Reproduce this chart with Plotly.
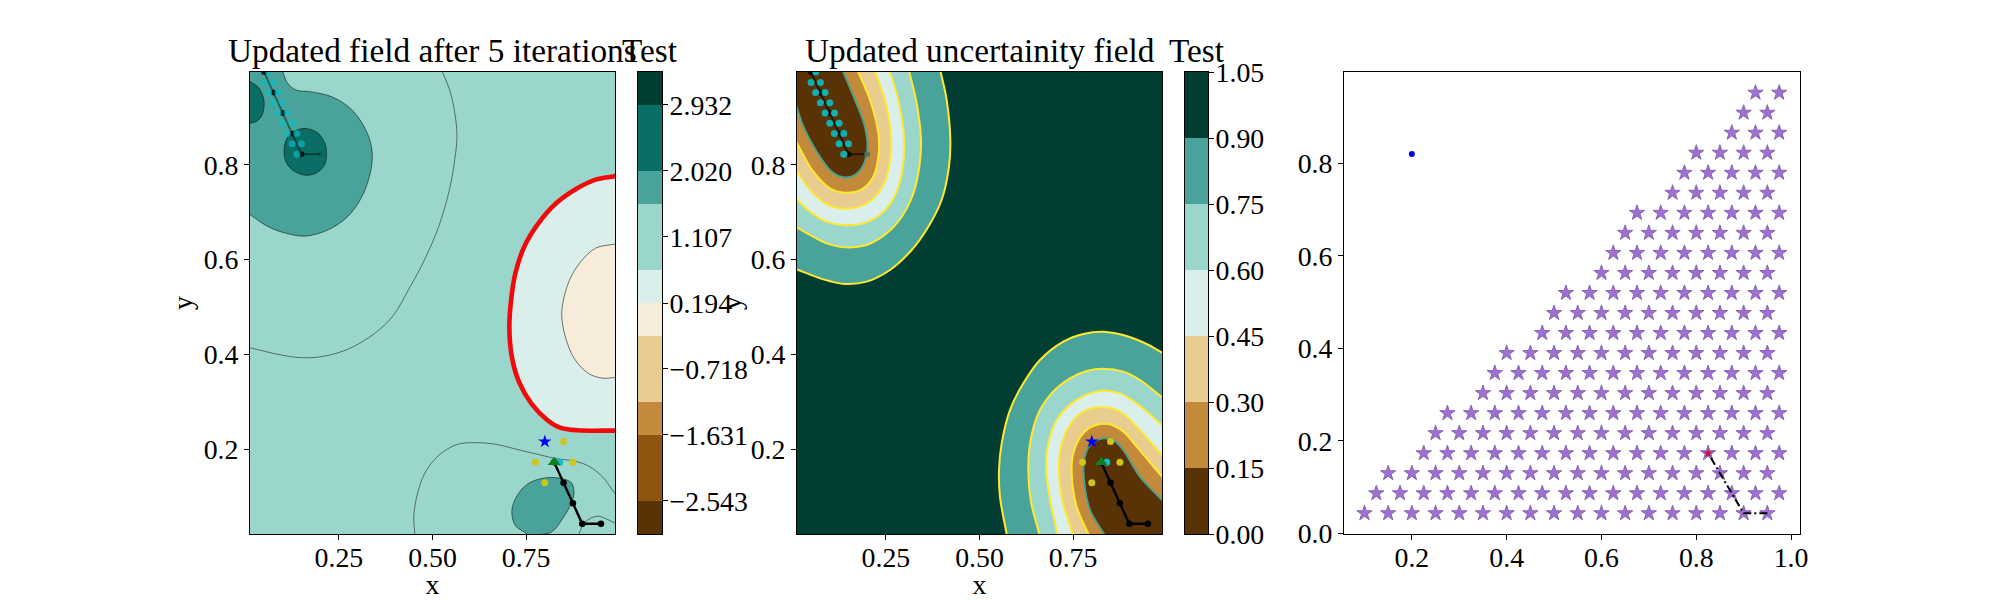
import plotly.graph_objects as go

FONT = "Liberation Serif"
TICK = 27.8
C_DARK = "#013D33"; C_TEAL = "#0A6E66"; C_MID = "#4AA39A"; C_LIGHT = "#9BD6CC"; C_PALE = "#DAEEEB"
C_CREAM = "#F6ECD9"; C_TAN = "#E8CC90"; C_BROWN = "#C38A3C"; C_BROWN2 = "#8F540F"; C_DBROWN = "#593305"
C_YEL = "#FFE92E"; C_EDGE = "#4FA08A"

f_mid_x = [.1, .112, .1357, .1738, .231, .2786, .3167, .3376, .3357, .3119, .2738, .2214, .1595, .1072, .0596, .0129]
f_mid_y = [.9966, .9733, .9578, .9543, .9437, .9204, .8817, .8359, .7901, .7337, .6914, .6632, .6498, .6562, .6703, .6949]
f_oval_x = [.1595, .1929, .2119, .2167, .2119, .1929, .1643, .131, .11, .1034, .1119, .131, .1595]
f_oval_y = [.8768, .8676, .8465, .8253, .8006, .7844, .7781, .7866, .8042, .8288, .857, .8711, .8768]
f_edge_x = [.0129, .0357, .05, .0453, .031, .0129]
f_edge_y = [.9754, .9627, .9345, .9064, .8923, .888]
f_line1_x = [.5262, .5453, .5595, .5653, .5595, .5453, .5167, .4786, .4405, .3929, .3453, .2786, .2119, .1548, .0976, .0129]
f_line1_y = [.9966, .9592, .9099, .8605, .8112, .7478, .6703, .5998, .5434, .48, .4447, .413, .3968, .3933, .3989, .4144]
f_red_x = [.9862, .9357, .8881, .831, .7833, .7453, .7214, .71, .7053, .7119, .731, .7643, .8072, .8405, .8881, .9862]
f_red_y = [.776, .7689, .7513, .7196, .6773, .628, .5716, .5152, .4588, .3954, .3425, .2967, .2615, .246, .2404, .2397]
f_cream_x = [.9862, .9357, .8929, .8643, .8481, .8453, .8548, .8786, .9167, .9548, .9862]
f_cream_y = [.6329, .6245, .5928, .554, .5082, .48, .4377, .3919, .3602, .3503, .3517]
f_line2_x = [.4529, .45, .4576, .4786, .5167, .5643, .6119, .6691, .7357, .7929, .831, .8786, .9167, .9548, .9862]
f_line2_y = [.0198, .0571, .0994, .1487, .1875, .2101, .2143, .2108, .1981, .1875, .1805, .1755, .165, .1417, .1079]
f_line3_x = [.89, .9072, .9405, .9643, .9862]
f_line3_y = [.0198, .0466, .0593, .0536, .0451]
f_blob_x = [.7738, .8167, .85, .8738, .8776, .8691, .831, .7929, .7548, .7262, .7119, .7214, .75]
f_blob_y = [.0198, .0254, .0571, .0924, .1135, .1311, .1403, .1389, .1276, .1029, .0712, .0395, .0233]

u_ul_90_x = [.3963, .4123, .4221, .4185, .3989, .3633, .3188, .2609, .1986, .1407, .0828, .0125]
u_ul_90_y = [.9959, .9369, .8525, .7963, .726, .6698, .6206, .5784, .5538, .5489, .5587, .5798]
u_ul_75_x = [.3126, .3322, .3437, .3393, .3233, .2921, .252, .1986, .1407, .0917, .0472, .0125]
u_ul_75_y = [.9959, .9298, .8525, .7963, .7401, .6908, .6557, .6311, .6262, .6346, .6522, .6684]
u_ul_60_x = [.2609, .2832, .2983, .2965, .2805, .252, .203, .1407, .0917, .0472, .0125]
u_ul_60_y = [.9959, .9369, .8595, .8033, .7471, .7084, .6803, .6726, .6803, .7014, .7274]
u_ul_45_x = [.2209, .2476, .2627, .2609, .2449, .212, .1719, .1407, .0962, .0517, .0125]
u_ul_45_y = [.9959, .9369, .8666, .8103, .7611, .726, .7105, .7077, .7154, .7436, .7857]
u_ul_30_x = [.1763, .2075, .2298, .2298, .2164, .1852, .1407, .1007, .0561, .0125]
u_ul_30_y = [.9959, .9369, .8666, .8174, .7752, .7485, .7415, .7506, .7857, .8455]
u_ul_15_x = [.1363, .1674, .1941, .2004, .1852, .163, .1363, .1051, .065, .0294, .0125]
u_ul_15_y = [.9959, .9369, .8806, .8314, .7928, .7766, .7738, .7857, .8279, .8806, .9193]

u_lr_90_x = [.5725, .5547, .5521, .5592, .5814, .6171, .6616, .7239, .7773, .8308, .8931, .9465, .9875]
u_lr_90_y = [.0217, .0998, .1566, .2129, .2831, .3394, .3886, .4272, .4434, .4483, .4392, .4223, .404]
u_lr_75_x = [.6598, .6366, .6304, .6366, .6571, .6927, .7417, .7862, .8308, .8842, .9287, .9875]
u_lr_75_y = [.0217, .0934, .1637, .2199, .2761, .3183, .3499, .3654, .3703, .364, .3464, .3099]
u_lr_60_x = [.7079, .6883, .6776, .6838, .7061, .7462, .7951, .8308, .8753, .9198, .9875]
u_lr_60_y = [.0217, .0934, .1637, .2129, .2621, .2972, .3183, .3239, .3183, .2972, .2515]
u_lr_45_x = [.7488, .7195, .7123, .7177, .7417, .7773, .8308, .8753, .9198, .9875]
u_lr_45_y = [.0217, .0998, .1566, .2058, .2515, .2796, .2888, .2796, .248, .1883]
u_lr_30_x = [.7907, .7595, .7462, .7506, .7729, .804, .8441, .8842, .9198, .9875]
u_lr_30_y = [.0217, .0793, .1496, .1918, .2304, .2494, .2536, .2375, .2058, .1426]
u_lr_15_x = [.8325, .7951, .7791, .7791, .7951, .8308, .8575, .8842, .9287, .9875]
u_lr_15_y = [.0217, .0723, .1355, .1777, .2093, .2234, .2199, .1988, .1426, .0934]

box_x = [-.2, 1.2, 1.2, -.2]
box_y = [-.2, -.2, 1.2, 1.2]

# ---- search points
path_low_x = [.95, .9, .875, .85, .825]
path_low_y = [.0433, .0433, .0866, .1299, .1732]
path_up_x = [.2, .15, .125, .1, .075, .05]
path_up_y = [.8227, .8227, .866, .9093, .9526, .9959]
near_x = [.85, .775, .875, .8]
near_y = [.2165, .1732, .1732, .1299]
cyan_up_x = [.1375, .125, .15, .1125, .1375, .1, .125, .0875, .1125, .075, .1, .0625, .0875, .05, .075, .0625]
cyan_up_y = [.8227, .8444, .8444, .866, .866, .8877, .8877, .9093, .9093, .931, .931, .9526, .9526, .974, .974, .9959]
cyan_low_x = [.84]
cyan_low_y = [.1732]
best_x = [.8]
best_y = [.2165]
current_x = [.825]
current_y = [.1732]

# ---- colour bars
cb1_edges = [-3.0, -2.543, -1.631, -1.175, -.262, .194, .65, 1.563, 2.02, 2.932, 3.388]
cb1_colors = [C_DBROWN, C_BROWN2, C_BROWN, C_TAN, C_CREAM, C_PALE, C_LIGHT, C_MID, C_TEAL, C_DARK]
cb1_ticks = [-2.543, -1.631, -.718, .194, 1.107, 2.02, 2.932]
cb1_labels = ["\u22122.543", "\u22121.631", "\u22120.718", "0.194", "1.107", "2.020", "2.932"]
cb2_edges = [0, .15, .3, .45, .6, .75, .9, 1.05]
cb2_colors = [C_DBROWN, C_BROWN, C_TAN, C_PALE, C_LIGHT, C_MID, C_DARK]
cb2_labels = ["0.00", "0.15", "0.30", "0.45", "0.60", "0.75", "0.90", "1.05"]

# ---- feasible set, row by row
star_row_y = [.0433, .0866, .1299, .1732, .2165, .2598, .3031, .3464, .3897, .433, .4763, .5196, .5629, .6062, .6495, .6928, .7361, .7794, .8227, .866, .9093, .9526]
star_row_x = [
    [.1, .15, .2, .25, .3, .35, .4, .45, .5, .55, .6, .65, .7, .75, .8, .85, .9, .95],
    [.125, .175, .225, .275, .325, .375, .425, .475, .525, .575, .625, .675, .725, .775, .825, .875, .925, .975],
    [.15, .2, .25, .3, .35, .4, .45, .5, .55, .6, .65, .7, .75, .8, .85, .9, .95],
    [.225, .275, .325, .375, .425, .475, .525, .575, .625, .675, .725, .775, .825, .875, .925, .975],
    [.25, .3, .35, .4, .45, .5, .55, .6, .65, .7, .75, .8, .85, .9, .95],
    [.275, .325, .375, .425, .475, .525, .575, .625, .675, .725, .775, .825, .875, .925, .975],
    [.35, .4, .45, .5, .55, .6, .65, .7, .75, .8, .85, .9, .95],
    [.375, .425, .475, .525, .575, .625, .675, .725, .775, .825, .875, .925, .975],
    [.4, .45, .5, .55, .6, .65, .7, .75, .8, .85, .9, .95],
    [.475, .525, .575, .625, .675, .725, .775, .825, .875, .925, .975],
    [.5, .55, .6, .65, .7, .75, .8, .85, .9, .95],
    [.525, .575, .625, .675, .725, .775, .825, .875, .925, .975],
    [.6, .65, .7, .75, .8, .85, .9, .95],
    [.625, .675, .725, .775, .825, .875, .925, .975],
    [.65, .7, .75, .8, .85, .9, .95],
    [.675, .725, .775, .825, .875, .925, .975],
    [.75, .8, .85, .9, .95],
    [.775, .825, .875, .925, .975],
    [.8, .85, .9, .95],
    [.875, .925, .975],
    [.9, .95],
    [.925, .975],
]
sample_x = [.2]
sample_y = [.82]
route_x = [.95, .9, .825]
route_y = [.0433, .0433, .1732]

fig = go.Figure()


def grow(xs, ys):
    """Run a traced contour past the plot edge at both ends, along its own direction."""
    gx = [2 * xs[0] - xs[1]] + list(xs) + [2 * xs[-1] - xs[-2]]
    gy = [2 * ys[0] - ys[1]] + list(ys) + [2 * ys[-1] - ys[-2]]
    return gx, gy


def region(ax, xs, ys, fill, line="rgba(0,0,0,.75)", width=.7, corner=None, extend=True):
    gx, gy = grow(xs, ys) if extend else (list(xs), list(ys))
    if corner:
        gx.append(corner[0]); gy.append(corner[1])
    fig.add_trace(go.Scatter(x=gx, y=gy, mode="lines", fill="toself", fillcolor=fill,
                             line=dict(color=line, width=width, shape="spline", smoothing=1.0),
                             xaxis="x" + ax, yaxis="y" + ax, showlegend=False, hoverinfo="skip"))


def isoline(ax, xs, ys):
    gx, gy = grow(xs, ys)
    fig.add_trace(go.Scatter(x=gx, y=gy, mode="lines",
                             line=dict(color="rgba(0,0,0,.7)", width=.7, shape="spline", smoothing=1.0),
                             xaxis="x" + ax, yaxis="y" + ax, showlegend=False, hoverinfo="skip"))


def pts(ax, xs, ys, mode="markers", **kw):
    fig.add_trace(go.Scatter(x=xs, y=ys, mode=mode, xaxis="x" + ax, yaxis="y" + ax,
                             showlegend=False, hoverinfo="skip", **kw))


def markers_over(ax, up_line, up_marker, end_marker, cyan):
    pts(ax, path_up_x, path_up_y, mode="lines", line=dict(color=up_line, width=2))
    pts(ax, path_up_x[:1], path_up_y[:1], marker=dict(color=end_marker, size=6))
    pts(ax, path_up_x[1:], path_up_y[1:], marker=dict(color=up_marker, size=6))
    pts(ax, cyan_up_x, cyan_up_y, marker=dict(color=cyan, size=7))
    pts(ax, path_low_x, path_low_y, mode="lines+markers", line=dict(color="black", width=2.4),
        marker=dict(color="black", size=6.5))
    pts(ax, near_x, near_y, marker=dict(color="#CCC61E", size=7))
    pts(ax, cyan_low_x, cyan_low_y, marker=dict(color="#12BFC6", size=7))
    pts(ax, best_x, best_y, marker=dict(color="#0000F0", size=10, symbol="star"))
    pts(ax, current_x, current_y, marker=dict(color="#0A8020", size=11, symbol="triangle-up"))


# Panel 1
region("", box_x, box_y, C_LIGHT, extend=False, width=0)
region("", f_red_x, f_red_y, C_PALE, line="#F20A0A", width=4.6)
region("", f_cream_x, f_cream_y, C_CREAM)
isoline("", f_line1_x, f_line1_y)
isoline("", f_line2_x, f_line2_y)
isoline("", f_line3_x, f_line3_y)
region("", f_blob_x, f_blob_y, C_MID)
region("", f_mid_x, f_mid_y, C_MID, corner=(-.2, 1.2))
region("", f_oval_x, f_oval_y, C_TEAL, extend=False)
region("", f_edge_x, f_edge_y, C_TEAL)
markers_over("", "rgba(0,0,0,.42)", "rgba(0,0,0,.7)", "rgba(0,0,0,.12)", "rgba(8,190,196,.65)")

# Panel 2
region("2", box_x, box_y, C_DARK, extend=False, width=0)
for xs, ys, col, edge, w in [
    (u_ul_90_x, u_ul_90_y, C_MID, C_YEL, 2), (u_ul_75_x, u_ul_75_y, C_LIGHT, C_YEL, 2),
    (u_ul_60_x, u_ul_60_y, C_PALE, C_YEL, 2), (u_ul_45_x, u_ul_45_y, C_TAN, C_YEL, 2),
    (u_ul_30_x, u_ul_30_y, C_BROWN, C_YEL, 2), (u_ul_15_x, u_ul_15_y, C_DBROWN, C_EDGE, 2),
]:
    region("2", xs, ys, col, line=edge, width=w, corner=(-.2, 1.2))
for xs, ys, col, edge, w in [
    (u_lr_90_x, u_lr_90_y, C_MID, C_YEL, 2), (u_lr_75_x, u_lr_75_y, C_LIGHT, C_YEL, 2),
    (u_lr_60_x, u_lr_60_y, C_PALE, C_YEL, 2), (u_lr_45_x, u_lr_45_y, C_TAN, C_YEL, 2),
    (u_lr_30_x, u_lr_30_y, C_BROWN, C_YEL, 2), (u_lr_15_x, u_lr_15_y, C_DBROWN, C_EDGE, 2),
]:
    region("2", xs, ys, col, line=edge, width=w, corner=(1.2, -.2))
markers_over("2", "rgba(0,0,0,.6)", "rgba(0,0,0,.75)", "rgba(70,120,100,.9)", "rgba(8,190,196,.9)")

# Colour bars
for ax, edges, cols in [("3", cb1_edges, cb1_colors), ("4", cb2_edges, cb2_colors)]:
    fig.add_trace(go.Bar(x=[0] * len(cols), base=edges[:-1],
                         y=[b - a for a, b in zip(edges[:-1], edges[1:])],
                         width=1, marker=dict(color=cols, line=dict(width=0)),
                         xaxis="x" + ax, yaxis="y" + ax, showlegend=False, hoverinfo="skip"))

# Panel 3
pts("5", [x for row in star_row_x for x in row],
    [y for y, row in zip(star_row_y, star_row_x) for _ in row],
    marker=dict(color="#A070D0", size=11.5, symbol="star", line=dict(color="#8565B5", width=1)))
pts("5", sample_x, sample_y, marker=dict(color="#0000F0", size=6))
pts("5", route_x, route_y, mode="lines", line=dict(color="black", width=2, dash="8px 3px 2px 3px"))
pts("5", current_x, current_y, marker=dict(color="#D01040", size=7, symbol="star"))

W, H = 2000, 600
TOP, BOTTOM = 72, 534
yd = [1 - BOTTOM / H, 1 - TOP / H]


def dom(a, b):
    return [a / W, b / W]


base = dict(showgrid=False, zeroline=False, showline=True, linecolor="black", linewidth=1.1, mirror=True,
            ticks="outside", ticklen=5, tickwidth=1.1, tickcolor="black", automargin=False,
            tickfont=dict(family=FONT, size=TICK, color="black"))
xlab = dict(base, ticklabelstandoff=-6)
cbar = dict(base, side="right", ticklabelstandoff=-4)
ttl = dict(family=FONT, size=TICK, color="black")
layout = dict(
    width=W, height=H, margin=dict(l=0, r=0, t=0, b=0, autoexpand=False), autosize=False, barmode="overlay",
    paper_bgcolor="white", plot_bgcolor="white", bargap=0,
    xaxis=dict(xlab, domain=dom(250, 615), range=[.0125, .9875], tickvals=[.25, .5, .75], ticktext=["0.25", "0.50", "0.75"],
               title=dict(text="x", font=ttl, standoff=4)),
    yaxis=dict(base, domain=yd, range=[.0217, .9959], anchor="x", tickvals=[.2, .4, .6, .8], ticktext=["0.2", "0.4", "0.6", "0.8"],
               title=dict(text="y", font=ttl, standoff=2)),
    xaxis2=dict(xlab, domain=dom(797, 1162), range=[.0125, .9875], anchor="y2", tickvals=[.25, .5, .75], ticktext=["0.25", "0.50", "0.75"],
                title=dict(text="x", font=ttl, standoff=4)),
    yaxis2=dict(base, domain=yd, range=[.0217, .9959], anchor="x2", tickvals=[.2, .4, .6, .8], ticktext=["0.2", "0.4", "0.6", "0.8"],
                title=dict(text="y", font=ttl, standoff=0)),
    xaxis3=dict(base, domain=dom(638, 662), range=[-.5, .5], anchor="y3", showticklabels=False, ticks=""),
    yaxis3=dict(cbar, domain=yd, anchor="x3", range=[-3, 3.388], tickvals=cb1_ticks, ticktext=cb1_labels),
    xaxis4=dict(base, domain=dom(1185, 1208), range=[-.5, .5], anchor="y4", showticklabels=False, ticks=""),
    yaxis4=dict(cbar, domain=yd, anchor="x4", range=[0, 1.05], tickvals=cb2_edges, ticktext=cb2_labels),
    xaxis5=dict(xlab, domain=dom(1344, 1800), range=[.0568, 1.0189], anchor="y5", tickvals=[.2, .4, .6, .8, 1.0],
                ticktext=["0.2", "0.4", "0.6", "0.8", "1.0"]),
    yaxis5=dict(base, domain=yd, anchor="x5", range=[-.0015, .9974], tickvals=[0, .2, .4, .6, .8],
                ticktext=["0.0", "0.2", "0.4", "0.6", "0.8"]),
)
fig.update_layout(**layout)

titles = [("Updated field after 5 iterations", 432.5), ("Test", 650),
          ("Updated uncertainity field", 979.5), ("Test", 1196.5)]
for text, cx in titles:
    fig.add_annotation(text=text, x=cx / W, y=1 - TOP / H, xref="paper", yref="paper", xanchor="center", yanchor="bottom",
                       yshift=1, showarrow=False, font=dict(family=FONT, size=33.3, color="black"))

fig.write_html("out.html", config={"displayModeBar": False}, post_script="document.body.style.margin='0';")
